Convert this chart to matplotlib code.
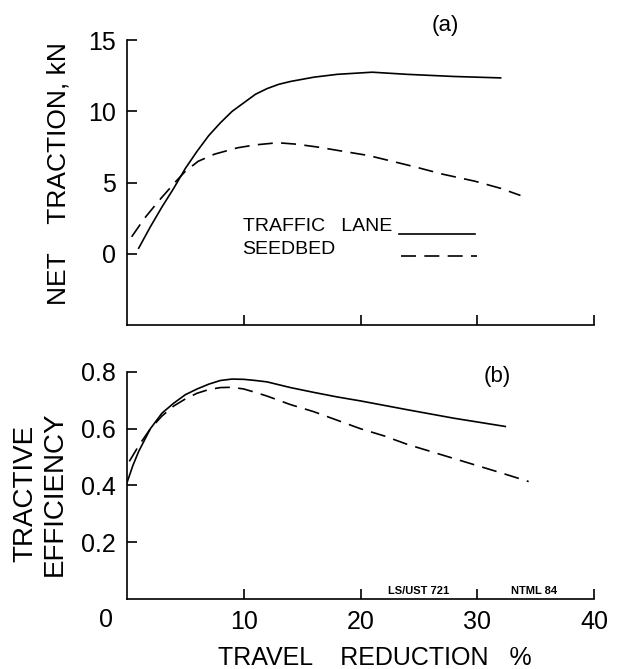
import matplotlib
matplotlib.use("Agg")
import matplotlib.pyplot as plt

plt.rcParams['font.family'] = ['Liberation Sans', 'DejaVu Sans']

# tração líquida (kN) x redução de percurso (%)
x_trafego_a = [1.0, 2.0, 3.0, 4.0, 5.0, 6.0, 7.0, 8.0, 9.0, 10.0, 11.0, 12.0,
               13.0, 14.0, 16.0, 18.0, 20.0, 21.0, 24.0, 28.0, 32.0]
y_trafego_a = [0.4, 1.9, 3.3, 4.6, 6.0, 7.2, 8.3, 9.2, 10.0, 10.6, 11.2, 11.6,
               11.9, 12.1, 12.4, 12.6, 12.7, 12.75, 12.6, 12.45, 12.35]
x_semente_a = [0.4, 1.5, 2.7, 4.2, 5.0, 6.1, 7.5, 9.5, 11.0, 12.9, 14.5, 16.3,
               18.5, 20.7, 22.7, 24.7, 27.0, 29.8, 32.0, 33.7]
y_semente_a = [1.2, 2.5, 3.7, 5.1, 5.8, 6.5, 7.0, 7.45, 7.65, 7.8, 7.7, 7.5,
               7.2, 6.9, 6.5, 6.1, 5.6, 5.1, 4.6, 4.1]

# eficiência de tração
x_trafego_b = [0.0, 0.5, 1.0, 2.0, 3.0, 4.0, 5.0, 6.0, 7.0, 8.0, 9.0, 10.0,
               11.0, 12.0, 14.0, 16.0, 18.0, 20.0, 24.0, 28.0, 32.4]
y_trafego_b = [0.41, 0.47, 0.52, 0.60, 0.655, 0.69, 0.72, 0.74, 0.757, 0.77,
               0.775, 0.774, 0.77, 0.765, 0.745, 0.728, 0.712, 0.698, 0.667,
               0.637, 0.608]
x_semente_b = [0.2, 1.0, 2.0, 3.0, 4.0, 5.0, 6.0, 7.0, 8.0, 9.0, 10.0, 11.0,
               12.0, 14.0, 16.0, 18.0, 20.0, 22.0, 24.0, 26.0, 28.0, 30.0,
               32.0, 34.4]
y_semente_b = [0.485, 0.54, 0.60, 0.645, 0.68, 0.705, 0.725, 0.738, 0.745,
               0.746, 0.74, 0.728, 0.715, 0.685, 0.66, 0.63, 0.60, 0.575,
               0.545, 0.52, 0.495, 0.47, 0.445, 0.414]

xticks = [10, 20, 30, 40]
yticks_a = [0, 5, 10, 15]
yticks_b = [0.2, 0.4, 0.6, 0.8]

tracejado = (0, (9, 5))
lw = 1.2

fig = plt.figure(figsize=(6.18, 6.69), dpi=100)
ax1 = fig.add_axes([0.2055, 0.514, 0.7557, 0.426])
ax2 = fig.add_axes([0.2055, 0.1046, 0.7557, 0.3394])

for ax in (ax1, ax2):
    ax.spines['top'].set_visible(False)
    ax.spines['right'].set_visible(False)
    ax.spines['left'].set_linewidth(1.2)
    ax.spines['bottom'].set_linewidth(1.2)
    ax.set_xlim(0, 40)
    ax.set_xticks(xticks)
    ax.tick_params(direction='in', length=7, width=1.2, labelsize=18, pad=8)
    ax.tick_params(axis='x', labelbottom=False)
    ax.patch.set_visible(False)

# grafico (a)
ax1.plot(x_trafego_a, y_trafego_a, color='black', lw=lw)
ax1.plot(x_semente_a, y_semente_a, color='black', lw=lw, linestyle=tracejado)
ax1.set_ylim(-5, 15)
ax1.set_yticks(yticks_a)
ax1.set_yticklabels(['0', '5', '10', '15'])
ax1.text(27.3, 16.0, '(a)', fontsize=16, ha='center', va='center')

# legenda feita a mao
ax1.text(9.9, 1.9, 'TRAFFIC   LANE', fontsize=14, va='center')
ax1.text(9.9, 0.28, 'SEEDBED', fontsize=14, va='center')
ax1.plot([23.3, 29.8], [1.4, 1.4], color='black', lw=lw)
ax1.plot([23.5, 30.0], [-0.14, -0.14], color='black', lw=lw, linestyle=tracejado)

# grafico (b)
ax2.plot(x_trafego_b, y_trafego_b, color='black', lw=lw)
ax2.plot(x_semente_b, y_semente_b, color='black', lw=lw, linestyle=tracejado)
ax2.set_ylim(0, 0.8)
ax2.set_yticks(yticks_b)
ax2.set_yticklabels(['0.2', '0.4', '0.6', '0.8'])
ax2.tick_params(axis='x', labelbottom=True)
ax2.set_xticklabels(['10', '20', '30', '40'])
ax2.text(-1.8, -0.075, '0', fontsize=18, ha='center', va='center')
ax2.text(31.7, 0.784, '(b)', fontsize=16, ha='center', va='center')
ax2.text(25.0, 0.03, 'LS/UST 721', fontsize=8, fontweight='bold', ha='center', va='center')
ax2.text(34.9, 0.03, 'NTML 84', fontsize=8, fontweight='bold', ha='center', va='center')

# rotulos dos eixos
fig.text(0.094, 0.741, 'NET    TRACTION, kN', rotation=90, fontsize=19,
         ha='center', va='center')
fig.text(0.065, 0.262, 'TRACTIVE\nEFFICIENCY', rotation=90, fontsize=20,
         ha='center', va='center', linespacing=1.15)
fig.text(0.606, 0.006, 'TRAVEL    REDUCTION   %', fontsize=18,
         ha='center', va='baseline')

plt.savefig('out.png', dpi=100)
